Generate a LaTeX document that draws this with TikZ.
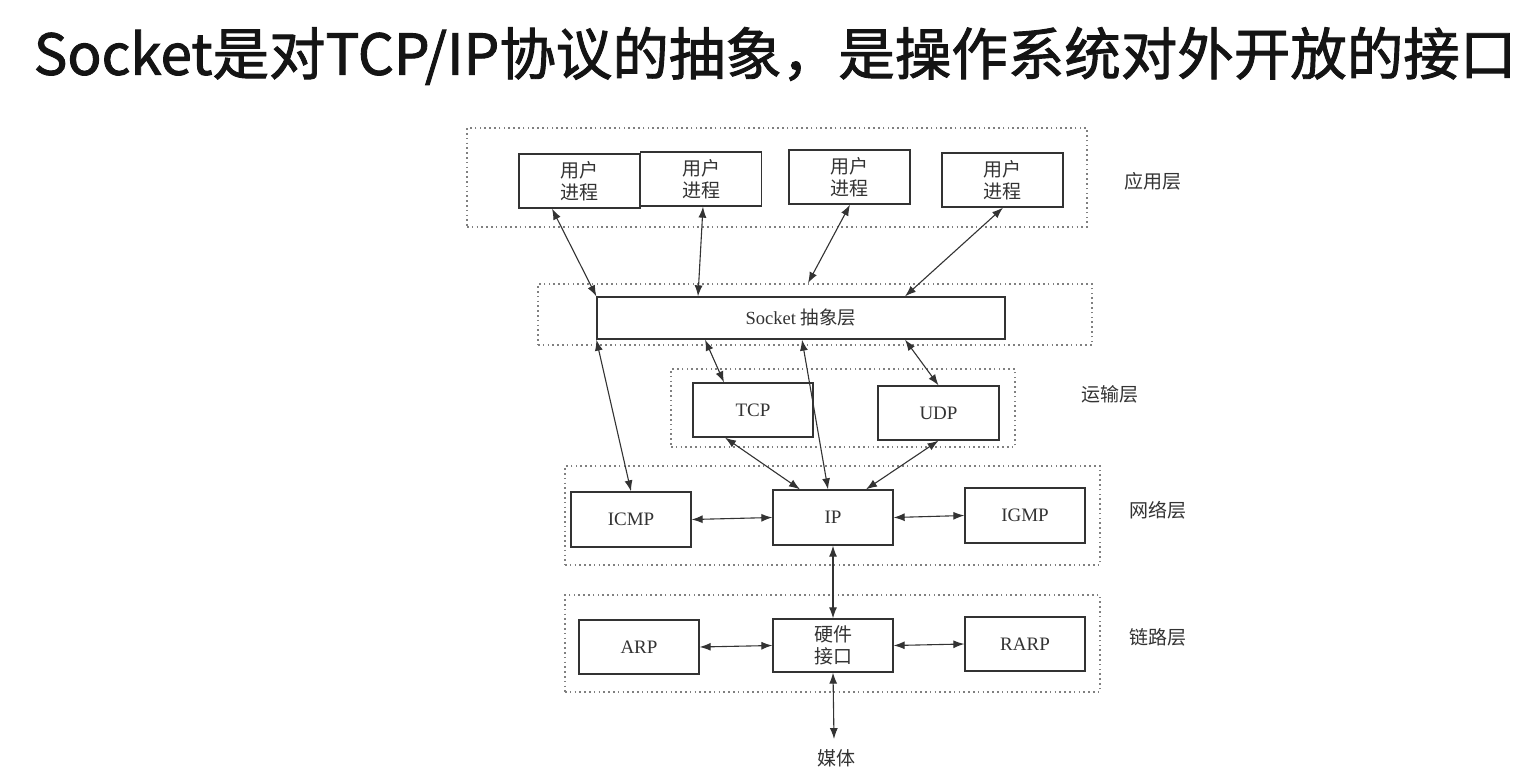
\documentclass[tikz,border=0pt]{standalone}
\usepackage{fontspec}
\setmainfont{Liberation Serif}
\newfontfamily\cjk{Noto Sans CJK SC}
\newfontfamily\cjkt{Noto Sans CJK SC}[FakeBold=1.6]
\usetikzlibrary{arrows.meta}
\begin{document}
\begin{tikzpicture}[x=1pt,y=-1pt,
  box/.style={draw=black!80, line width=1.3pt, minimum width=121pt, minimum height=54pt, inner sep=0pt, text=black!80, align=center, font=\fontsize{19}{22}\selectfont},
  layer/.style={draw=black!50, line width=1.7pt, dash pattern=on 1.6pt off 3.2pt, inner sep=0pt},
  lab/.style={text=black!80, font=\fontsize{19}{22}\selectfont\cjk, inner sep=0pt},
  link/.style={{Latex[length=11pt,width=8pt]}-{Latex[length=11pt,width=8pt]}, line width=1.1pt, draw=black!80},
  zh/.style={font=\fontsize{19}{22}\selectfont\cjk}]
\useasboundingbox (0,0) rectangle (1531,774);
\fill[white] (0,0) rectangle (1531,774);
% title
\node[text=black!92, inner sep=0pt, font=\fontsize{56.5}{62}\selectfont\cjkt] (title) at (775,56) {Socket是对TCP/IP协议的抽象，是操作系统对外开放的接口};
% layers
\node[layer, minimum width=620pt, minimum height=99pt] (appL) at (777,177.5) {};
\node[layer, minimum width=554pt, minimum height=61pt] (sockL) at (815,314.5) {};
\node[layer, minimum width=344pt, minimum height=78pt] (transL) at (843,408) {};
\node[layer, minimum width=535pt, minimum height=99pt] (netL) at (832.5,515.5) {};
\node[layer, minimum width=535pt, minimum height=97pt] (linkL) at (832.5,643.5) {};
% boxes
\node[box, zh] (u1) at (579.5,181) {用户\\进程};
\node[box, zh] (u2) at (701,179) {用户\\进程};
\node[box, zh] (u3) at (849.5,177) {用户\\进程};
\node[box, zh] (u4) at (1002.5,180) {用户\\进程};
\node[box, minimum width=408pt, minimum height=42pt] (sock) at (801,318) {{\fontsize{18.5}{20}\selectfont Socket} {\fontsize{18.5}{20}\selectfont\cjk 抽象层}};
\node[box, minimum width=120pt] (tcp) at (753,410) {TCP};
\node[box] (udp) at (938.5,413) {UDP};
\node[box, minimum width=120pt, minimum height=55pt] (icmp) at (631,519.5) {ICMP};
\node[box, minimum width=120pt, minimum height=55pt] (ip) at (833,517.5) {IP};
\node[box, minimum width=120pt, minimum height=55pt] (igmp) at (1025,515.5) {IGMP};
\node[box, minimum width=120pt] (arp) at (639,647) {ARP};
\node[box, zh, minimum width=120pt, minimum height=53pt] (hw) at (833,645.5) {硬件\\接口};
\node[box, minimum width=120pt] (rarp) at (1025,644) {RARP};
\node[lab] (media) at (836,758) {媒体};
% layer labels
\node[lab] (lapp) at (1153,181) {应用层};
\node[lab] (ltrans) at (1110,394) {运输层};
\node[lab] (lnet) at (1158,510) {网络层};
\node[lab] (llink) at (1158,637) {链路层};
% connectors
\draw[link] ([xshift=-27.5pt]u1.south) -- (sock.north west);
\draw[link] ([xshift=2pt]u2.south) -- ([xshift=-103pt]sock.north);
\draw[link] ([xshift=0.5pt]u3.south) -- ([xshift=-7pt]sockL.north);
\draw[link] ([xshift=0.5pt]u4.south) -- ([xshift=104pt]sock.north);
\draw[link] (sock.south west) -- (icmp.north);
\draw[link] ([xshift=-96pt]sock.south) -- ([xshift=-29pt]tcp.north);
\draw[link] ([xshift=1pt]sock.south) -- ([xshift=-5pt]ip.north);
\draw[link] ([xshift=104pt]sock.south) -- (udp.north);
\draw[link] ([xshift=-28pt]tcp.south) -- ([xshift=-33pt]ip.north);
\draw[link] (udp.south) -- ([xshift=33pt]ip.north);
\draw[link] (icmp.east) -- (ip.west);
\draw[link] (ip.east) -- (igmp.west);
\draw[link] (ip.south) -- (hw.north);
\draw[link] (arp.east) -- (hw.west);
\draw[link] (hw.east) -- (rarp.west);
\draw[link] (hw.south) -- ([xshift=-2pt,yshift=10pt]media.north);
\end{tikzpicture}
\end{document}
